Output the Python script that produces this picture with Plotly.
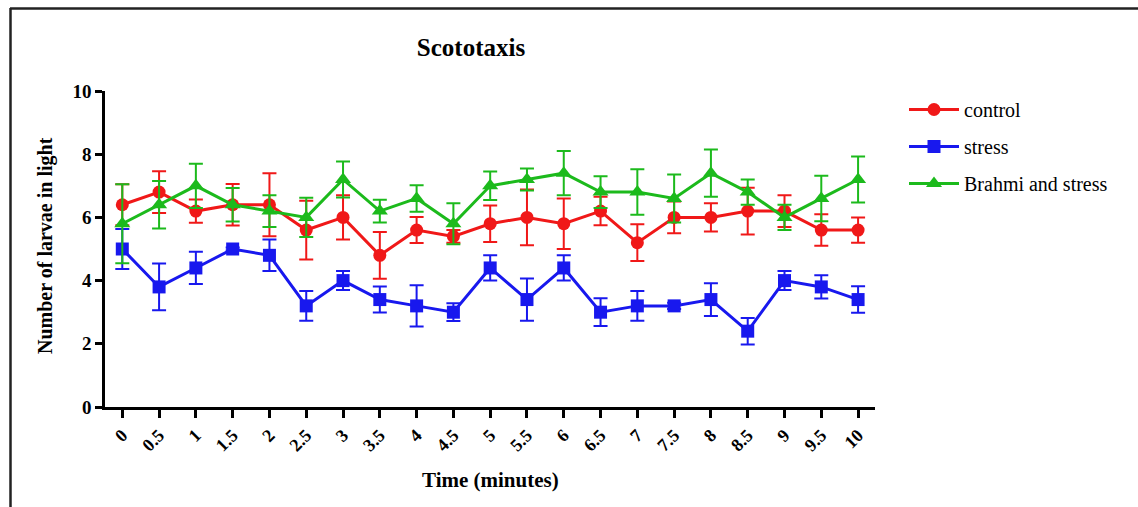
import plotly.graph_objects as go

# ---- data ----
time_vals = [0, 0.5, 1, 1.5, 2, 2.5, 3, 3.5, 4, 4.5, 5, 5.5, 6, 6.5, 7, 7.5, 8, 8.5, 9, 9.5, 10]
time_labels = ["0", "0.5", "1", "1.5", "2", "2.5", "3", "3.5", "4", "4.5", "5",
               "5.5", "6", "6.5", "7", "7.5", "8", "8.5", "9", "9.5", "10"]

control = [6.4, 6.8, 6.2, 6.4, 6.4, 5.6, 6.0, 4.8, 5.6, 5.4, 5.8, 6.0, 5.8, 6.2, 5.2, 6.0, 6.0, 6.2, 6.2, 5.6, 5.6]
control_sem = [0.65, 0.66, 0.37, 0.66, 1.0, 0.93, 0.7, 0.74, 0.41, 0.2, 0.58, 0.88, 0.8, 0.45, 0.58, 0.5, 0.45, 0.74, 0.5, 0.5, 0.4]

stress = [5.0, 3.8, 4.4, 5.0, 4.8, 3.2, 4.0, 3.4, 3.2, 3.0, 4.4, 3.4, 4.4, 3.0, 3.2, 3.2, 3.4, 2.4, 4.0, 3.8, 3.4]
stress_sem = [0.63, 0.74, 0.51, 0.05, 0.5, 0.47, 0.3, 0.41, 0.65, 0.28, 0.4, 0.67, 0.4, 0.44, 0.47, 0.1, 0.52, 0.42, 0.3, 0.37, 0.42]

brahmi = [5.8, 6.4, 7.0, 6.4, 6.2, 6.0, 7.2, 6.2, 6.6, 5.8, 7.0, 7.2, 7.4, 6.8, 6.8, 6.6, 7.4, 6.8, 6.0, 6.6, 7.2]
brahmi_sem = [1.25, 0.75, 0.7, 0.53, 0.5, 0.62, 0.57, 0.36, 0.42, 0.65, 0.45, 0.35, 0.7, 0.5, 0.72, 0.76, 0.75, 0.4, 0.4, 0.72, 0.73]

series_names = ["control", "stress", "Brahmi and stress"]
series_colors = ["#f01818", "#1818ee", "#1cba1c"]
series_symbols = ["circle", "square", "triangle-up"]
series_sizes = [13, 13, 14]

SERIF = "Liberation Serif, Times New Roman, serif"

fig = go.Figure()
for name, vals, sem, col, sym, sz in zip(series_names, [control, stress, brahmi],
                                         [control_sem, stress_sem, brahmi_sem],
                                         series_colors, series_symbols, series_sizes):
    fig.add_trace(go.Scatter(
        x=time_vals, y=vals, name=name, mode="lines+markers",
        legendgroup=name,
        line=dict(color=col, width=3),
        marker=dict(color=col, symbol=sym, size=sz),
        error_y=dict(type="data", array=sem, visible=True, color=col, thickness=2, width=7),
    ))

# plot area: x 105..875 px, y 91..407 px
L, R, T, B = 105, 1138 - 875, 91, 507 - 407
pw, ph = 1138 - L - R, 507 - T - B

def px_x(p):
    return (p - L) / pw

def px_y(p):
    return (507 - B - p) / ph

fig.update_layout(
    width=1138, height=507,
    margin=dict(l=L, r=R, t=T, b=B, autoexpand=False),
    paper_bgcolor="white", plot_bgcolor="white",
    font=dict(family=SERIF, color="black"),
    title=dict(text="<b>Scototaxis</b>", x=px_x(471), xref="paper", xanchor="center",
               y=1 - 47 / 507, yref="container", yanchor="middle",
               font=dict(family=SERIF, size=25, color="black")),
    showlegend=True,
    legend=dict(x=px_x(904), y=px_y(90), xanchor="left", yanchor="top",
                font=dict(family=SERIF, size=20, color="black"),
                tracegroupgap=8, itemwidth=50, bgcolor="rgba(0,0,0,0)"),
    xaxis=dict(range=[-0.235, 10.23], tickvals=time_vals, ticktext=time_labels,
               tickangle=-45, ticks="outside", ticklen=8, tickwidth=2.5, tickcolor="black",
               showline=True, linewidth=2.5, linecolor="black", showgrid=False, zeroline=False,
               tickfont=dict(family=SERIF, size=18, color="black", weight="bold")),
    yaxis=dict(range=[0, 10], tickvals=[0, 2, 4, 6, 8, 10], ticks="outside", ticklen=7,
               tickwidth=2.5, tickcolor="black",
               showline=True, linewidth=2.5, linecolor="black", showgrid=False, zeroline=False,
               tickfont=dict(family=SERIF, size=19, color="black", weight="bold")),
    annotations=[
        dict(text="<b>Time (minutes)</b>", xref="paper", yref="paper", x=px_x(491), y=px_y(480),
             xanchor="center", yanchor="middle", showarrow=False,
             font=dict(family=SERIF, size=21, color="black")),
        dict(text="<b>Number of larvae in light</b>", xref="paper", yref="paper", x=px_x(46), y=px_y(246),
             xanchor="center", yanchor="middle", showarrow=False, textangle=-90,
             font=dict(family=SERIF, size=20, color="black")),
    ],
    shapes=[
        dict(type="line", xref="paper", yref="paper", x0=px_x(10), x1=px_x(1140), y0=px_y(8.5), y1=px_y(8.5),
             line=dict(color="#222222", width=2.5)),
        dict(type="line", xref="paper", yref="paper", x0=px_x(10.5), x1=px_x(10.5), y0=px_y(8), y1=px_y(510),
             line=dict(color="#222222", width=2.5)),
    ],
)

fig.write_html("out.html", config={"displayModeBar": False},
               post_script="document.body.style.margin='0';")
